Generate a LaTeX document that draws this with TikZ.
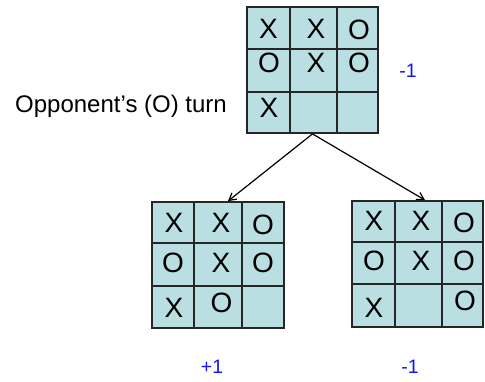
\documentclass[tikz,border=0pt]{standalone}
\usepackage{fontspec}
\setmainfont{Liberation Sans}
\usetikzlibrary{arrows.meta}
\definecolor{cellfill}{RGB}{186,223,226}
\definecolor{scoreblue}{RGB}{20,20,240}
\begin{document}
\begin{tikzpicture}[x=1pt,y=-1pt,
  board/.style={draw=black!85, line width=1.8pt, fill=cellfill, inner sep=0pt,
    minimum width=#1, minimum height=126pt},
  gridline/.style={draw=black!85, line width=1.8pt},
  piece/.style={inner sep=0pt, font=\fontsize{28}{28}\selectfont},
  score/.style={inner sep=0pt, text=scoreblue, font=\fontsize{19.5}{20}\selectfont},
  caption/.style={inner sep=0pt, anchor=base west, font=\fontsize{24}{24}\selectfont},
  move/.style={line width=1.2pt, -{Straight Barb[length=7pt,width=8pt]}}]
\useasboundingbox (0,0) rectangle (485,381);

% root position, O to move
\node[board=131pt] (root) at (312.5,70) {};
\draw[gridline] (290,7) -- (290,133) (337,7) -- (337,133)
                (247,49) -- (378,49) (247,92) -- (378,92);
\node[piece] (r11) at (268.5,29) {X};
\node[piece] (r12) at (316,29) {X};
\node[piece] (r13) at (359,29.5) {O};
\node[piece] (r21) at (269,63) {O};
\node[piece] (r22) at (316,63) {X};
\node[piece] (r23) at (359,63) {O};
\node[piece] (r31) at (269,108) {X};

% left child: O takes the middle of the bottom row
\node[board=132pt] (left) at (218,265) {};
\draw[gridline] (194,202) -- (194,328) (242,202) -- (242,328)
                (152,243) -- (284,243) (152,286) -- (284,286);
\node[piece] (a11) at (174,223) {X};
\node[piece] (a12) at (221,223) {X};
\node[piece] (a13) at (263,225) {O};
\node[piece] (a21) at (173,263) {O};
\node[piece] (a22) at (221,263) {X};
\node[piece] (a23) at (263,263) {O};
\node[piece] (a31) at (174,308) {X};
\node[piece] (a32) at (221.5,303) {O};

% right child: O takes the bottom-right corner
\node[board=131pt] (right) at (417.5,264) {};
\draw[gridline] (395,201) -- (395,327) (442,201) -- (442,327)
                (352,242) -- (483,242) (352,284) -- (483,284);
\node[piece] (b11) at (374,221) {X};
\node[piece] (b12) at (421,221) {X};
\node[piece] (b13) at (464,223) {O};
\node[piece] (b21) at (374,261) {O};
\node[piece] (b22) at (421,261) {X};
\node[piece] (b23) at (464,261) {O};
\node[piece] (b31) at (374,308) {X};
\node[piece] (b33) at (465,301) {O};

% moves
\coordinate (lin) at ([xshift=10pt]left.north);
\coordinate (rin) at ([xshift=7.5pt]right.north);
\draw[move] (root.south) -- (lin);
\draw[move] (root.south) -- (rin);

% labels and scores
\node[caption] (turn) at (15,112) {Opponent’s (O) turn};
\node[score] (sroot) at (408,71) {-1};
\node[score] (sleft) at (212,367) {+1};
\node[score] (sright) at (410,367) {-1};
\end{tikzpicture}
\end{document}
